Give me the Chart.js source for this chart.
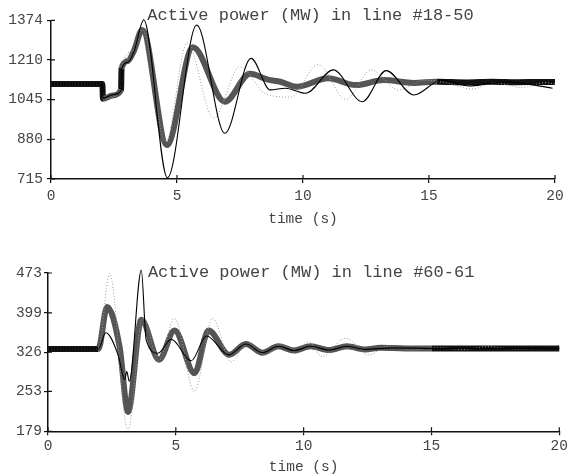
<!DOCTYPE html>
<html><head><meta charset="utf-8">
<script src="https://cdn.jsdelivr.net/npm/chart.js@4/dist/chart.umd.min.js"></script>
<style>
html,body{margin:0;padding:0;background:#fff;}
#wrap{position:relative;width:570px;height:476px;overflow:hidden;}
.pane{position:absolute;left:0;width:570px;height:238px;}
</style></head><body>
<div id="wrap">
<div class="pane" style="top:0"><canvas id="c1" width="570" height="238"></canvas></div>
<div class="pane" style="top:238px"><canvas id="c2" width="570" height="238"></canvas></div>
</div>
<script>
// ---- shared ----
const xTicks = [0, 5, 10, 15, 20];
const xLabel = 'time (s)';

// ---- top panel: line #18-50 ----
const topTitle = 'Active power (MW) in line #18-50';
const topYTicks = [715, 880, 1045, 1210, 1374];
const topThickT = [0, 2.04, 2.06, 2.45, 2.78, 2.8, 3.05, 3.3, 3.62, 4.6, 5.63, 6.9, 7.9, 8.6, 9.1, 9.75, 11.0, 12.1, 13.2, 14.4, 15.3, 16.5, 17.5, 18.5, 19.5, 20];
const topThickV = [1110, 1110, 1048, 1062, 1085, 1175, 1205, 1250, 1334, 856, 1262, 1036, 1152, 1128, 1119, 1098, 1133, 1105, 1126, 1114, 1119, 1116, 1119, 1117, 1118, 1118];
const topThinT = [0, 2.04, 2.06, 2.45, 2.78, 2.8, 3.05, 3.3, 3.68, 4.62, 5.78, 6.9, 7.94, 8.7, 9.3, 10.1, 11.2, 12.35, 13.3, 14.4, 15.5, 16.6, 17.4, 18.2, 19.0, 19.9];
const topThinV = [1110, 1110, 1050, 1065, 1082, 1170, 1200, 1245, 1376, 720, 1354, 905, 1216, 1085, 1092, 1071, 1168, 1036, 1165, 1064, 1126, 1101, 1112, 1119, 1108, 1092];
const topDotT = [0, 2.04, 2.06, 2.78, 2.8, 3.3, 3.62, 4.55, 5.4, 6.45, 7.5, 8.5, 9.5, 10.6, 11.7, 12.7, 13.8, 14.8, 15.8, 16.7, 17.6, 18.7, 19.6, 20];
const topDotV = [1110, 1110, 1048, 1085, 1175, 1250, 1340, 870, 1280, 968, 1181, 1070, 1055, 1190, 1046, 1168, 1085, 1125, 1112, 1088, 1115, 1095, 1115, 1110];

// ---- bottom panel: line #60-61 ----
const botTitle = 'Active power (MW) in line #60-61';
const botYTicks = [179, 253, 326, 399, 473];
const botThickT = [0, 1.97, 2.31, 2.8, 3.13, 3.65, 4.34, 4.95, 5.73, 6.28, 7.09, 7.74, 8.39, 9.01, 9.62, 10.27, 10.99, 11.7, 12.4, 13.0, 14.0, 15.0, 16, 18, 20];
const botThickV = [332, 332, 410, 336, 215, 386, 312, 366, 287, 366, 321, 341, 325, 337, 329, 337, 330, 337, 331, 334, 333, 333, 333, 333, 333];
const botThinT = [0, 1.97, 2.26, 2.74, 3.0, 3.08, 3.18, 3.65, 3.84, 4.3, 4.82, 5.6, 6.2, 7.07, 7.74, 8.39, 9.01, 9.62, 10.27, 10.99, 11.7, 12.4, 13.5, 15, 17, 20];
const botThinV = [332, 332, 362, 321, 275, 290, 272, 478, 349, 324, 350, 310, 356, 321, 341, 325, 337, 329, 337, 330, 337, 331, 334, 333, 333, 333];
const botDotT = [0, 1.97, 2.41, 3.13, 3.7, 4.34, 4.95, 5.73, 6.44, 7.16, 7.8, 8.5, 9.1, 9.7, 10.2, 10.72, 11.64, 12.54, 13.3, 14.2, 15.2, 16.2, 17.2, 18.2, 20];
const botDotV = [332, 332, 472, 181, 389, 310, 389, 253, 389, 308, 342, 321, 341, 330, 345, 318, 352, 321, 337, 330, 335, 331, 336, 332, 333];

const FONT = '"Liberation Mono", "Courier New", monospace';
const TXT = '#444';
const AX = '#111';

const decor = {
  id: 'decor',
  afterDraw(chart, args, opts) {
    const {ctx, chartArea, scales} = chart;
    const xs = scales.x, ys = scales.y;
    ctx.save();
    ctx.strokeStyle = AX; ctx.lineWidth = 1.2;
    ctx.beginPath();
    xs.ticks.forEach(t => { const px = xs.getPixelForValue(t.value); ctx.moveTo(px, chartArea.bottom); ctx.lineTo(px, chartArea.bottom - 4); });
    ys.ticks.forEach(t => { const py = ys.getPixelForValue(t.value); ctx.moveTo(chartArea.left, py); ctx.lineTo(chartArea.left + 4, py); });
    ctx.stroke();
    ctx.font = '17px ' + FONT; ctx.fillStyle = TXT;
    ctx.textAlign = 'center'; ctx.textBaseline = 'alphabetic';
    ctx.fillText(opts.text, (chartArea.left + chartArea.right) / 2 + opts.dx, chartArea.top + opts.dy);
    ctx.restore();
  }
};

function pts(ts, vs) { return ts.map((t, i) => ({x: t, y: vs[i]})); }

function makeChart(id, cfg) {
  const thickColor = (ctx) => {
    const t = cfg.thickT[ctx.p0DataIndex];
    const dx = Math.abs(ctx.p1.x - ctx.p0.x), dy = Math.abs(ctx.p1.y - ctx.p0.y);
    if (t < cfg.blackBefore || t >= cfg.blackAfter || dy > 8 * dx) return '#111';
    return '#555';
  };
  return new Chart(document.getElementById(id), {
    type: 'line',
    data: {
      datasets: [
        { data: pts(cfg.thinT, cfg.thinV), borderColor: '#000', borderWidth: 1.1, pointRadius: 0,
          cubicInterpolationMode: 'monotone', order: 1, clip: false },
        { data: pts(cfg.dotT, cfg.dotV), borderColor: '#9a9a9a', borderWidth: 1, borderDash: [1, 2], pointRadius: 0,
          cubicInterpolationMode: 'monotone', order: 2, clip: false },
        { data: pts(cfg.thickT, cfg.thickV), borderColor: '#555', borderWidth: 6, pointRadius: 0,
          cubicInterpolationMode: 'monotone', order: 3, clip: false, borderJoinStyle: 'round',
          segment: { borderColor: thickColor } }
      ]
    },
    options: {
      responsive: false, animation: false, events: [], devicePixelRatio: 1,
      layout: { padding: cfg.pad },
      plugins: { legend: { display: false }, tooltip: { enabled: false },
        decor: { text: cfg.title, dx: 7.5, dy: cfg.titleDy } },
      scales: {
        x: {
          type: 'linear', min: 0, max: 20,
          afterBuildTicks: s => { s.ticks = xTicks.map(v => ({value: v})); },
          afterFit: s => { s.height = cfg.xH; },
          ticks: { color: TXT, font: { family: FONT, size: 14.5 }, padding: cfg.xPad, maxRotation: 0, autoSkip: false },
          grid: { display: true, drawOnChartArea: false, drawTicks: true, tickLength: 4, color: AX, lineWidth: 1.2 },
          border: { display: true, color: AX, width: 1.5 },
          title: { display: true, text: xLabel, color: TXT, font: { family: FONT, size: 14.5 }, padding: { top: 0, bottom: cfg.tPad } }
        },
        y: {
          type: 'linear', min: cfg.yTicks[0], max: cfg.yTicks[cfg.yTicks.length - 1],
          afterBuildTicks: s => { s.ticks = cfg.yTicks.map(v => ({value: v})); },
          afterFit: s => { s.width = cfg.yW; },
          ticks: { color: TXT, font: { family: FONT, size: 14.5 }, padding: cfg.yPad, autoSkip: false, callback: v => String(v) },
          grid: { display: true, drawOnChartArea: false, drawTicks: true, tickLength: 4, color: AX, lineWidth: 1.2 },
          border: { display: true, color: AX, width: 1.5 }
        }
      }
    },
    plugins: [decor]
  });
}

makeChart('c1', {
  title: topTitle, yTicks: topYTicks,
  thickT: topThickT, thickV: topThickV, thinT: topThinT, thinV: topThinV, dotT: topDotT, dotV: topDotV,
  pad: { left: 8, right: 15, top: 20.3, bottom: 0 }, xH: 59, yW: 43, xPad: 4, yPad: 4, tPad: 10,
  titleDy: 0, blackBefore: 2.04, blackAfter: 15.3
});
makeChart('c2', {
  title: botTitle, yTicks: botYTicks,
  thickT: botThickT, thickV: botThickV, thinT: botThinT, thinV: botThinV, dotT: botDotT, dotV: botDotV,
  pad: { left: 6, right: 8.7, top: 35, bottom: 0 }, xH: 44.7, yW: 42, xPad: 2, yPad: 2, tPad: 0,
  titleDy: 3.5, blackBefore: 1.97, blackAfter: 15.0
});
</script>
</body></html>
